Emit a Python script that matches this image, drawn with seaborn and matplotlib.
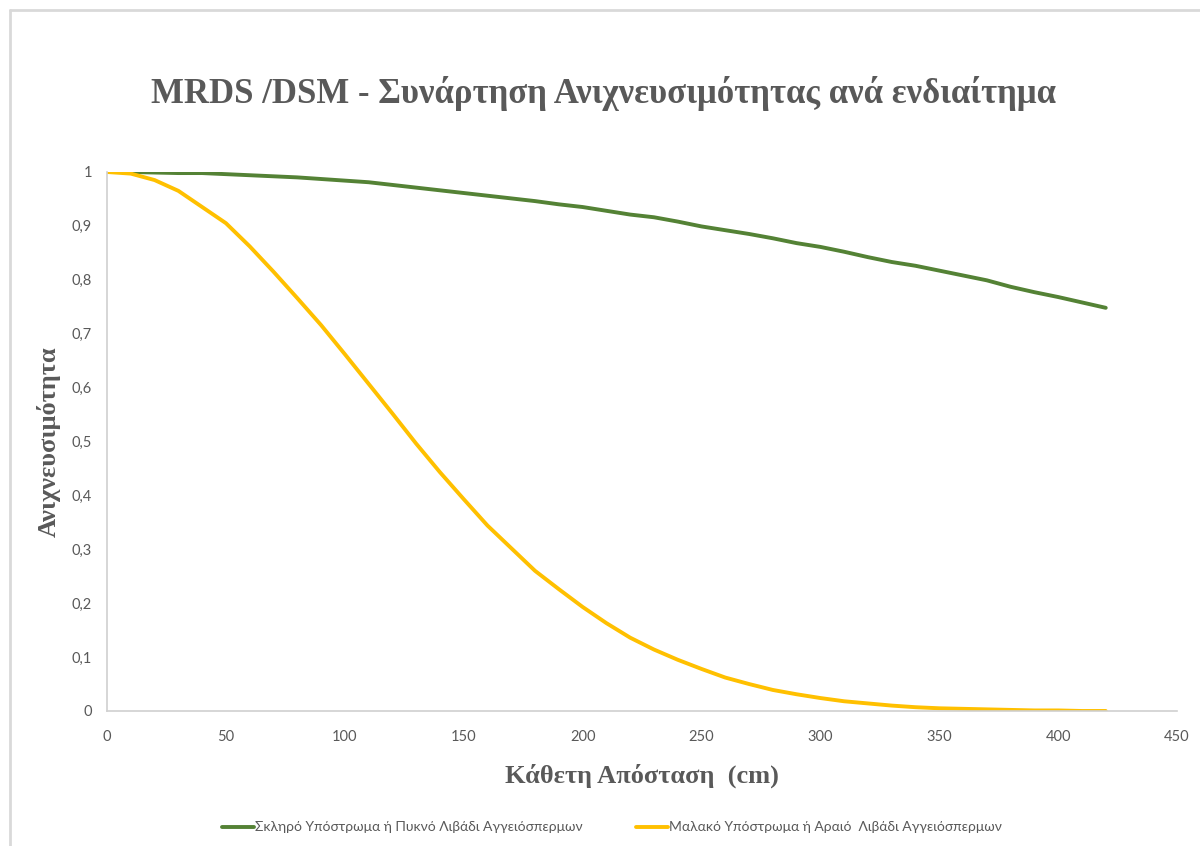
import matplotlib
matplotlib.use("Agg")
import matplotlib.pyplot as plt
from matplotlib.lines import Line2D
from matplotlib.ticker import FuncFormatter, MultipleLocator
import pandas as pd
import seaborn as sns

# Perpendicular distance (cm)
distance = [0, 10, 20, 30, 40, 50, 60, 70, 80, 90, 100, 110, 120, 130, 140,
            150, 160, 170, 180, 190, 200, 210, 220, 230, 240, 250, 260, 270,
            280, 290, 300, 310, 320, 330, 340, 350, 360, 370, 380, 390, 400,
            410, 420]

# Detectability, hard substrate / dense seagrass meadow
hard_dense = [1.000, 1.000, 0.999, 0.998, 0.998, 0.996, 0.994, 0.992, 0.990,
              0.987, 0.984, 0.981, 0.976, 0.971, 0.966, 0.961, 0.956, 0.951,
              0.946, 0.940, 0.935, 0.928, 0.921, 0.916, 0.908, 0.899, 0.892,
              0.885, 0.877, 0.868, 0.861, 0.852, 0.842, 0.833, 0.826, 0.817,
              0.808, 0.799, 0.787, 0.777, 0.768, 0.758, 0.748]

# Detectability, soft substrate / sparse seagrass meadow
soft_sparse = [1.000, 0.997, 0.985, 0.965, 0.935, 0.905, 0.862, 0.815, 0.766,
               0.716, 0.662, 0.607, 0.552, 0.496, 0.443, 0.393, 0.344, 0.302,
               0.260, 0.226, 0.193, 0.163, 0.136, 0.114, 0.095, 0.078, 0.062,
               0.050, 0.039, 0.031, 0.024, 0.018, 0.014, 0.010, 0.007, 0.005,
               0.004, 0.003, 0.002, 0.001, 0.001, 0.000, 0.000]

series_names = ["Σκληρό Υπόστρωμα ή Πυκνό Λιβάδι Αγγειόσπερμων",
                "Μαλακό Υπόστρωμα ή Αραιό  Λιβάδι Αγγειόσπερμων"]
series_colors = ["#548235", "#FFC000"]

title_text = "MRDS /DSM - Συνάρτηση Ανιχνευσιμότητας ανά ενδιαίτημα"
x_label = "Κάθετη Απόσταση  (cm)"
y_label = "Ανιχνευσιμότητα"

df = pd.concat([
    pd.DataFrame({"distance": distance, "value": hard_dense, "series": series_names[0]}),
    pd.DataFrame({"distance": distance, "value": soft_sparse, "series": series_names[1]}),
])

sns.set_theme(style="white")
plt.rcParams["font.family"] = ["Lato", "DejaVu Sans"]

fig = plt.figure(figsize=(12, 8.46), dpi=100)
ax = fig.add_axes([0.0892, 0.1596, 0.8917, 0.6371])

sns.lineplot(data=df, x="distance", y="value", hue="series",
             palette=dict(zip(series_names, series_colors)),
             linewidth=2.8, ax=ax, legend=False)

ax.set_xlim(0, 450)
ax.set_ylim(0, 1)
ax.xaxis.set_major_locator(MultipleLocator(50))
ax.yaxis.set_major_locator(MultipleLocator(0.1))
ax.yaxis.set_major_formatter(FuncFormatter(
    lambda v, _: "0" if abs(v) < 1e-9 else ("1" if abs(v - 1) < 1e-9 else f"{v:.1f}".replace(".", ","))))
ax.tick_params(axis="both", length=0, labelsize=10.5, colors="#595959")
ax.tick_params(axis="x", pad=14)
ax.tick_params(axis="y", pad=11)

for side in ["top", "right"]:
    ax.spines[side].set_visible(False)
for side in ["left", "bottom"]:
    ax.spines[side].set_color("#d0d0d0")
    ax.spines[side].set_linewidth(1.2)

serif = ["Liberation Serif", "DejaVu Serif"]
ax.set_xlabel(x_label, fontsize=19, fontweight="bold", color="#595959",
              family=serif, labelpad=14)
ax.set_ylabel(y_label, fontsize=19, fontweight="bold", color="#595959",
              family=serif, labelpad=8)

fig.text(0.503, 0.889, title_text, ha="center", va="center", fontsize=25,
         fontweight="bold", color="#595959", family=serif)

handles = [Line2D([0], [0], color=c, linewidth=2.8) for c in series_colors]
fig.legend(handles, series_names, loc="center", bbox_to_anchor=(0.51, 0.022),
           ncol=2, frameon=False, fontsize=10, handlelength=2.3,
           handletextpad=0.1, columnspacing=3.8, labelcolor="#595959")

# Chart frame
fig.add_artist(Line2D([0.0083, 1.0], [0.988, 0.988], transform=fig.transFigure,
                      color="#d9d9d9", linewidth=2))
fig.add_artist(Line2D([0.0083, 0.0083], [0.0, 0.988], transform=fig.transFigure,
                      color="#d9d9d9", linewidth=2))

fig.savefig("out.png", dpi=100, facecolor="white")
